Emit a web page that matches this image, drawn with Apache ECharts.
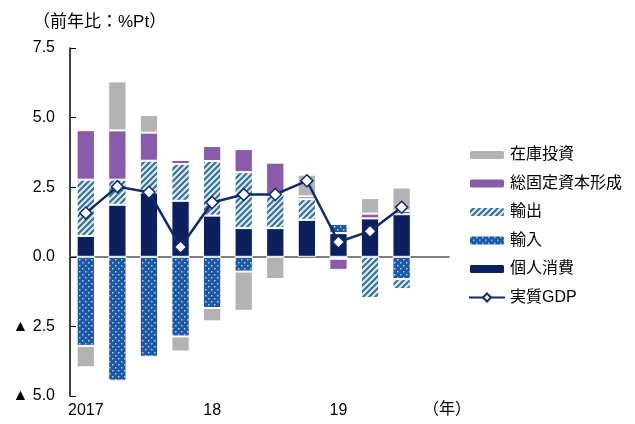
<!DOCTYPE html>
<html>
<head>
<meta charset="utf-8">
<script src="https://cdn.jsdelivr.net/npm/echarts@6/dist/echarts.min.js"></script>
<style>
  html, body { margin: 0; padding: 0; background: #fff; }
  #main { width: 635px; height: 424px; }
</style>
</head>
<body>
<div id="main"></div>
<script>
// 四半期（2017Q1〜2019Q4）
var quarters = ['2017Q1','2017Q2','2017Q3','2017Q4','2018Q1','2018Q2','2018Q3','2018Q4','2019Q1','2019Q2','2019Q3','2019Q4'];
var yearLabels = {'2017Q1': '2017', '2018Q1': '18', '2019Q1': '19'};

// 寄与度（%Pt）
var consumption = [0.75, 1.87, 2.31, 2.01, 1.48, 1.03, 1.03, 1.33, 0.85, 1.38, 1.53, null];
var imports     = [-3.20, -4.45, -3.59, -2.86, -1.84, -0.53, 0.00, 0.00, 0.33, 0.00, -0.80, null];
var exports_    = [2.02, 0.90, 1.14, 1.32, 1.96, 2.01, 1.22, 0.74, -0.07, -1.48, -0.36, null];
var investment  = [1.78, 1.77, 1.01, 0.15, 0.54, 0.83, 1.13, 0.10, -0.40, 0.17, 0.12, null];
var inventory   = [-0.77, 1.76, 0.63, -0.54, -0.48, -1.41, -0.80, 0.78, -0.08, 0.56, 0.84, null];
var realGdp     = [1.57, 2.52, 2.32, 0.35, 1.95, 2.24, 2.24, 2.73, 0.53, 0.92, 1.78, null];

function stripePattern() {
  var c = document.createElement('canvas');
  c.width = 6; c.height = 6;
  var g = c.getContext('2d');
  g.fillStyle = '#d8f0f6';
  g.fillRect(0, 0, 6, 6);
  g.strokeStyle = '#3f6f97';
  g.lineWidth = 2.2;
  g.beginPath();
  g.moveTo(-3, 3); g.lineTo(3, -3);
  g.moveTo(0, 6); g.lineTo(6, 0);
  g.moveTo(3, 9); g.lineTo(9, 3);
  g.stroke();
  return { image: c, repeat: 'repeat' };
}

function dotPattern() {
  var c = document.createElement('canvas');
  c.width = 6; c.height = 6;
  var g = c.getContext('2d');
  g.fillStyle = '#1d57a5';
  g.fillRect(0, 0, 6, 6);
  g.fillStyle = '#9fd3ef';
  g.fillRect(1, 1, 1.5, 1.5);
  g.fillRect(4, 4, 1.5, 1.5);
  return { image: c, repeat: 'repeat' };
}

var font = 'Arial, "Liberation Sans", "Noto Sans CJK JP"';
var chart = echarts.init(document.getElementById('main'));

function bar(name, data, color) {
  return {
    name: name, type: 'bar', stack: 'total', data: data,
    barWidth: '58%',
    itemStyle: { color: color, borderColor: '#fff', borderWidth: 1 }
  };
}

chart.setOption({
  animation: false,
  textStyle: { fontFamily: font },
  grid: { left: 70, right: 186, top: 48, bottom: 28 },
  legend: {
    orient: 'vertical', left: 463, top: 142, itemWidth: 36, itemHeight: 10, itemGap: 12.5,
    textStyle: { fontSize: 16, color: '#000', fontFamily: font },
    data: ['在庫投資', '総固定資本形成', '輸出', '輸入', '個人消費', '実質GDP']
  },
  graphic: [
    { type: 'text', left: 33, top: 14, style: { text: '（前年比：%Pt）', fill: '#000', font: '17px ' + font } },
    { type: 'text', left: 423, top: 402, style: { text: '（年）', fill: '#000', font: '16px ' + font } }
  ],
  xAxis: [
    {
      type: 'category', data: quarters,
      axisLine: { onZero: true, lineStyle: { color: '#555', width: 1.5 } },
      axisTick: { inside: true, length: 6, lineStyle: { color: '#333' },
        interval: function (i) { return i === 4 || i === 8; } },
      axisLabel: { show: false }
    },
    {
      type: 'category', data: quarters, position: 'bottom',
      axisLine: { show: false }, axisTick: { show: false },
      axisLabel: {
        interval: 0, margin: 7, fontSize: 16, color: '#000',
        formatter: function (v) { return yearLabels[v] || ''; }
      }
    }
  ],
  yAxis: {
    type: 'value', min: -5, max: 7.5, interval: 2.5,
    splitLine: { show: false },
    axisLine: { show: true, lineStyle: { color: '#000', width: 1.5 } },
    axisTick: { show: true, inside: true, length: 6, lineStyle: { color: '#000' } },
    axisLabel: {
      fontSize: 16, color: '#000', margin: 15,
      formatter: function (v) { return v < 0 ? '▲ ' + (-v).toFixed(1) : v.toFixed(1); }
    }
  },
  series: [
    bar('個人消費', consumption, '#0c1f5f'),
    bar('輸入', imports, dotPattern()),
    bar('輸出', exports_, stripePattern()),
    bar('総固定資本形成', investment, '#8a5ba8'),
    bar('在庫投資', inventory, '#b3b3b3'),
    {
      name: '実質GDP', type: 'line', data: realGdp, z: 5,
      symbol: 'diamond', symbolSize: 12,
      lineStyle: { color: '#0f2a6b', width: 2.5 },
      itemStyle: { color: '#fff', borderColor: '#0f2a6b', borderWidth: 1.5 }
    }
  ]
});
</script>
</body>
</html>
